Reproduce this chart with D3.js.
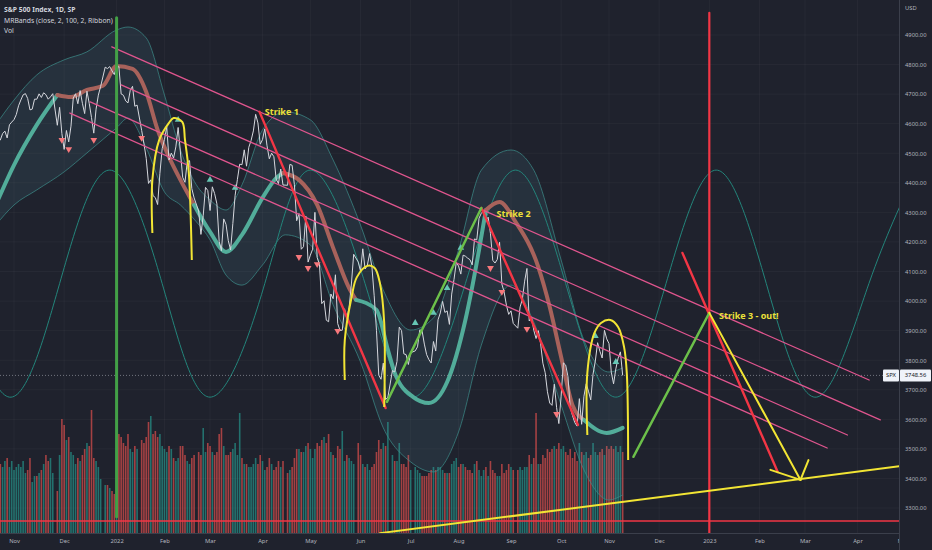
<!DOCTYPE html>
<html><head><meta charset="utf-8">
<script src="https://cdn.jsdelivr.net/npm/d3@7"></script>
<style>
html,body{margin:0;padding:0;background:#1f222d;}
svg{display:block;}
text{font-family:"Noto Sans","Open Sans",sans-serif;}
</style></head><body>
<svg id="c" width="932" height="550"></svg>
<script>
// ---------------- DATA ----------------
// daily S&P 500 closes and volume (billions)
const spxDaily = [
["2021-10-20",4536.2,2.3],["2021-10-21",4549.8,2.2],["2021-10-22",4544.9,2.3],["2021-10-25",4566.5,2.2],["2021-10-26",4574.8,2.4],["2021-10-27",4551.7,2.5],["2021-10-28",4596.4,2.2],["2021-10-29",4605.4,2.4],
["2021-11-01",4613.7,2.1],["2021-11-02",4630.7,2.2],["2021-11-03",4660.6,2.3],["2021-11-04",4680.1,2.2],["2021-11-05",4697.5,2.4],["2021-11-08",4701.7,2.0],["2021-11-09",4685.3,2.1],["2021-11-10",4646.7,2.5],["2021-11-11",4649.3,1.7],["2021-11-12",4682.9,1.9],["2021-11-15",4682.8,1.9],["2021-11-16",4700.9,2.0],["2021-11-17",4688.7,2.1],["2021-11-18",4704.5,2.3],["2021-11-19",4698.0,2.6],["2021-11-22",4682.9,2.4],["2021-11-23",4690.7,2.5],["2021-11-24",4701.5,2.0],["2021-11-26",4594.6,1.4],["2021-11-29",4655.3,2.6],["2021-11-30",4567.0,3.8],
["2021-12-01",4513.0,3.6],["2021-12-02",4577.1,3.1],["2021-12-03",4538.4,3.2],["2021-12-06",4591.7,2.7],["2021-12-07",4686.8,2.6],["2021-12-08",4701.2,2.3],["2021-12-09",4667.5,2.5],["2021-12-10",4712.0,2.4],["2021-12-13",4669.0,2.6],["2021-12-14",4634.1,2.8],["2021-12-15",4709.9,3.0],["2021-12-16",4668.7,2.9],["2021-12-17",4620.6,4.1],["2021-12-20",4568.0,2.5],["2021-12-21",4649.2,2.4],["2021-12-22",4696.6,2.2],["2021-12-23",4725.8,1.8],["2021-12-27",4791.2,1.6],["2021-12-28",4786.4,1.6],["2021-12-29",4793.1,1.5],["2021-12-30",4778.7,1.4],["2021-12-31",4766.2,1.3],
["2022-01-03",4796.6,2.8],["2022-01-04",4793.5,3.3],["2022-01-05",4700.6,3.2],["2022-01-06",4696.1,3.0],["2022-01-07",4677.0,2.9],["2022-01-10",4670.3,3.3],["2022-01-11",4713.1,2.8],["2022-01-12",4726.4,2.7],["2022-01-13",4659.0,2.9],["2022-01-14",4662.9,2.8],["2022-01-18",4577.1,3.1],["2022-01-19",4532.8,3.0],["2022-01-20",4482.7,3.2],["2022-01-21",4397.9,3.7],["2022-01-24",4410.1,3.9],["2022-01-25",4356.5,3.3],["2022-01-26",4349.9,3.4],["2022-01-27",4326.5,3.2],["2022-01-28",4431.9,3.3],["2022-01-31",4515.6,2.9],
["2022-02-01",4546.5,2.8],["2022-02-02",4589.4,2.7],["2022-02-03",4477.4,2.9],["2022-02-04",4500.5,2.8],["2022-02-07",4483.9,2.5],["2022-02-08",4521.5,2.4],["2022-02-09",4587.2,2.5],["2022-02-10",4504.1,2.9],["2022-02-11",4418.6,2.9],["2022-02-14",4401.7,2.6],["2022-02-15",4471.1,2.4],["2022-02-16",4475.0,2.3],["2022-02-17",4380.3,2.5],["2022-02-18",4348.9,2.6],["2022-02-22",4304.8,2.7],["2022-02-23",4225.5,2.6],["2022-02-24",4288.7,3.5],["2022-02-25",4384.7,2.7],["2022-02-28",4373.9,3.0],
["2022-03-01",4306.3,2.9],["2022-03-02",4386.5,2.7],["2022-03-03",4363.5,2.6],["2022-03-04",4328.9,2.7],["2022-03-07",4201.1,3.3],["2022-03-08",4170.7,3.5],["2022-03-09",4277.9,2.9],["2022-03-10",4259.5,2.6],["2022-03-11",4204.3,2.6],["2022-03-14",4173.1,2.7],["2022-03-15",4262.5,2.8],["2022-03-16",4357.9,3.0],["2022-03-17",4411.7,2.6],["2022-03-18",4463.1,4.0],["2022-03-21",4461.2,2.5],["2022-03-22",4511.6,2.3],["2022-03-23",4456.2,2.3],["2022-03-24",4520.2,2.2],["2022-03-25",4543.1,2.2],["2022-03-28",4575.5,2.3],["2022-03-29",4631.6,2.5],["2022-03-30",4602.5,2.3],["2022-03-31",4530.4,2.6],
["2022-04-01",4545.9,2.4],["2022-04-04",4582.6,2.1],["2022-04-05",4525.1,2.2],["2022-04-06",4481.2,2.5],["2022-04-07",4500.2,2.3],["2022-04-08",4488.3,2.1],["2022-04-11",4412.5,2.2],["2022-04-12",4397.5,2.4],["2022-04-13",4446.6,2.2],["2022-04-14",4392.6,2.4],["2022-04-18",4391.7,2.0],["2022-04-19",4462.2,2.1],["2022-04-20",4459.5,2.2],["2022-04-21",4393.7,2.5],["2022-04-22",4271.8,2.8],["2022-04-25",4296.1,2.8],["2022-04-26",4175.2,2.7],["2022-04-27",4184.0,2.7],["2022-04-28",4287.5,2.9],["2022-04-29",4131.9,3.0],
["2022-05-02",4155.4,2.8],["2022-05-03",4175.5,2.5],["2022-05-04",4300.2,2.8],["2022-05-05",4146.9,3.0],["2022-05-06",4123.3,2.9],["2022-05-09",3991.2,3.1],["2022-05-10",4001.1,3.2],["2022-05-11",3935.2,3.0],["2022-05-12",3930.1,3.3],["2022-05-13",4023.9,2.7],["2022-05-16",4008.0,2.6],["2022-05-17",4088.9,2.5],["2022-05-18",3923.7,2.9],["2022-05-19",3900.8,2.8],["2022-05-20",3901.4,3.4],["2022-05-23",3973.8,2.4],["2022-05-24",3941.5,2.6],["2022-05-25",3978.7,2.5],["2022-05-26",4057.8,2.4],["2022-05-27",4158.2,2.3],["2022-05-31",4132.2,3.0],
["2022-06-01",4101.2,2.6],["2022-06-02",4176.8,2.3],["2022-06-03",4108.5,2.2],["2022-06-06",4121.4,2.3],["2022-06-07",4160.7,2.1],["2022-06-08",4115.8,2.2],["2022-06-09",4017.8,2.3],["2022-06-10",3900.9,2.7],["2022-06-13",3749.6,3.1],["2022-06-14",3735.5,2.8],["2022-06-15",3790.0,3.0],["2022-06-16",3666.8,2.9],["2022-06-17",3674.8,3.7],["2022-06-21",3764.8,2.6],["2022-06-22",3759.9,2.4],["2022-06-23",3795.7,2.4],["2022-06-24",3911.7,3.0],["2022-06-27",3900.1,2.3],["2022-06-28",3821.6,2.3],["2022-06-29",3818.8,2.2],["2022-06-30",3785.4,2.6],
["2022-07-01",3825.3,2.1],["2022-07-05",3831.4,2.2],["2022-07-06",3845.1,2.1],["2022-07-07",3902.6,2.0],["2022-07-08",3899.4,1.9],["2022-07-11",3854.4,1.9],["2022-07-12",3818.8,1.9],["2022-07-13",3801.8,2.0],["2022-07-14",3790.4,2.1],["2022-07-15",3863.2,2.2],["2022-07-18",3830.9,2.1],["2022-07-19",3936.7,2.2],["2022-07-20",3959.9,2.2],["2022-07-21",3999.0,2.1],["2022-07-22",3961.6,2.0],["2022-07-25",3966.8,2.0],["2022-07-26",3921.1,2.0],["2022-07-27",4023.6,2.3],["2022-07-28",4072.4,2.4],["2022-07-29",4130.3,2.5],
["2022-08-01",4118.6,2.2],["2022-08-02",4091.2,2.3],["2022-08-03",4155.2,2.3],["2022-08-04",4151.9,2.2],["2022-08-05",4145.2,2.1],["2022-08-08",4140.1,2.1],["2022-08-09",4122.5,2.0],["2022-08-10",4210.2,2.3],["2022-08-11",4207.3,2.4],["2022-08-12",4280.2,2.1],["2022-08-15",4297.1,1.9],["2022-08-16",4305.2,2.1],["2022-08-17",4274.0,2.2],["2022-08-18",4283.7,1.9],["2022-08-19",4228.5,2.4],["2022-08-22",4138.0,2.1],["2022-08-23",4128.7,2.0],["2022-08-24",4140.8,1.9],["2022-08-25",4199.1,1.9],["2022-08-26",4057.7,2.3],["2022-08-29",4030.6,2.0],["2022-08-30",3986.2,2.1],["2022-08-31",3955.0,2.3],
["2022-09-01",3966.9,2.2],["2022-09-02",3924.3,2.1],["2022-09-06",3908.2,2.1],["2022-09-07",3979.9,2.2],["2022-09-08",4006.2,2.1],["2022-09-09",4067.4,2.2],["2022-09-12",4110.4,2.2],["2022-09-13",3932.7,2.6],["2022-09-14",3946.0,2.3],["2022-09-15",3901.4,2.5],["2022-09-16",3873.3,4.0],["2022-09-19",3899.9,2.3],["2022-09-20",3855.9,2.3],["2022-09-21",3789.9,2.6],["2022-09-22",3758.0,2.5],["2022-09-23",3693.2,2.8],["2022-09-26",3655.0,2.7],["2022-09-27",3647.3,2.8],["2022-09-28",3719.0,2.9],["2022-09-29",3640.5,2.8],["2022-09-30",3585.6,3.0],
["2022-10-03",3678.4,2.8],["2022-10-04",3790.9,2.9],["2022-10-05",3783.3,2.7],["2022-10-06",3744.5,2.6],["2022-10-07",3639.7,2.8],["2022-10-10",3612.4,2.5],["2022-10-11",3588.8,2.7],["2022-10-12",3577.0,2.4],["2022-10-13",3669.9,3.0],["2022-10-14",3583.1,2.7],["2022-10-17",3678.0,2.6],["2022-10-18",3720.0,2.7],["2022-10-19",3695.2,2.5],["2022-10-20",3665.8,2.6],["2022-10-21",3752.8,3.0],["2022-10-24",3797.3,2.7],["2022-10-25",3859.1,2.6],["2022-10-26",3830.6,2.7],["2022-10-27",3807.3,2.8],["2022-10-28",3901.1,2.6],["2022-10-31",3872.0,2.9],
["2022-11-01",3856.1,2.8],["2022-11-02",3759.7,2.9],["2022-11-03",3719.9,2.8],["2022-11-04",3770.6,2.9],["2022-11-07",3806.8,2.7],["2022-11-08",3828.1,2.9],["2022-11-09",3748.56,2.7]
];
const lastPrice = 3748.56;

// MRBands envelope
const bandDates = ["2021-10-20","2021-11-01","2021-11-15","2021-12-01","2021-12-15","2022-01-01","2022-01-10","2022-01-20","2022-02-01","2022-02-10","2022-02-20","2022-03-01","2022-03-10","2022-03-20","2022-04-01","2022-04-15","2022-05-01","2022-05-15","2022-06-01","2022-06-15","2022-07-01","2022-07-15","2022-08-01","2022-08-15","2022-09-01","2022-09-15","2022-10-01","2022-10-15","2022-11-01","2022-11-09"];
const bandUpper = [4596,4680,4765,4816,4843,4917,4927,4890,4697,4511,4393,4342,4308,4393,4579,4640,4613,4477,4257,4037,3902,3943,4173,4443,4511,4443,4139,3868,3760,3774];
const bandLower = [4257,4325,4376,4437,4501,4586,4619,4518,4369,4325,4268,4207,4088,4054,4122,4224,4190,3987,3794,3571,3456,3422,3557,3851,4054,3929,3648,3429,3327,3344];

// MRBands ribbon (basis); state u = teal, d = salmon (segment to next point)
const ribbonDates = ["2021-10-20","2021-11-01","2021-11-15","2021-11-26","2021-12-06","2021-12-15","2021-12-24","2022-01-03","2022-01-12","2022-01-20","2022-01-27","2022-02-04","2022-02-10","2022-02-18","2022-03-01","2022-03-10","2022-03-20","2022-04-01","2022-04-10","2022-04-14","2022-04-25","2022-05-05","2022-05-15","2022-05-25","2022-05-28","2022-06-10","2022-06-17","2022-06-22","2022-07-03","2022-07-13","2022-07-23","2022-08-04","2022-08-12","2022-08-17","2022-08-25","2022-09-04","2022-09-17","2022-09-25","2022-10-03","2022-10-10","2022-10-16","2022-10-30","2022-11-09"];
const ribbonValues = [4325,4460,4596,4697,4690,4714,4728,4795,4785,4707,4579,4471,4410,4325,4234,4166,4224,4349,4416,4433,4410,4325,4180,4044,4004,3970,3835,3757,3676,3655,3726,3936,4173,4308,4335,4268,4115,3980,3811,3648,3598,3554,3571];
const ribbonState  = ["u","u","u","d","d","d","d","d","d","d","d","d","d","u","u","u","u","u","u","d","d","d","d","d","u","u","u","u","u","u","u","u","u","d","d","d","d","d","d","d","u","u","u"];

// cycle wave (thin teal oscillation) — peaks, troughs and crossings
const cycleDates = ["2021-08-26","2021-09-27","2021-10-28","2021-11-28","2021-12-29","2022-01-30","2022-03-01","2022-04-02","2022-05-02","2022-06-03","2022-07-03","2022-08-04","2022-09-03","2022-10-05","2022-11-04","2022-12-06","2023-01-05","2023-02-06","2023-03-08","2023-04-08","2023-05-09"];
const cycleValues = [4443,4059,3675,4059,4443,4059,3675,4059,4443,4059,3675,4059,4443,4059,3675,4059,4443,4059,3675,4059,4443];

// signals
const sellSignals = [["2021-11-30",4545],["2021-12-03",4514],["2021-12-20",4545],["2022-01-18",4552],["2022-04-25",4149],["2022-04-29",4112],["2022-05-05",4125],["2022-05-18",3899],["2022-08-19",4112],["2022-08-26",4031],["2022-09-12",3906],["2022-09-29",3618]];
const buySignals  = [["2022-02-09",4613],["2022-03-01",4410],["2022-03-16",4383],["2022-07-05",3926],["2022-07-15",3960],["2022-07-25",4044],["2022-08-02",4180],["2022-10-24",3882],["2022-11-04",3794]];

// drawings: points are [days since 2021-11-01, price]
const drawBase = "2021-11-01";
const channelLines = [[[58.9,4860],[525.1,3733]],[[65.0,4731],[531.2,3598]],[[45.4,4674],[511.6,3547]],[[32.5,4636],[498.7,3503]]];
const redTrendLines = [[[149.7,4640],[227.0,3638]],[[285.9,4315],[345.4,3581]],[[409.2,4163],[468.7,3422]]];
const redVertical = [[426.4,4975],[426.4,3150]];
const greenTrendLines = [[[227.6,3659],[286.5,4315]],[[379.7,3473],[425.1,3960]]];
const greenVertical = [[62.9,4958],[62.9,3270]];
const yellowLines = [[[425.1,3960],[481.0,3395]],[[463.8,3429],[481.0,3395]],[[486.5,3462],[481.0,3395]],[[224.5,3215],[545,3443]]];
const redLevel = 3256;
const yellowArcs = [
 [[84.7,4230],[84.7,4410],[87.7,4545],[93.9,4602],[97.5,4619],[101.8,4606],[104.9,4545],[106.7,4433],[108.0,4139]],
 [[203.1,3733],[203.1,3868],[206.1,4014],[210.4,4081],[216.6,4119],[220.2,4112],[224.5,4061],[226.4,3926],[226.4,3642]],
 [[351.5,3547],[351.5,3757],[354.6,3892],[359.5,3926],[365.6,3936],[370.5,3912],[373.6,3845],[374.8,3757],[375.4,3462]]
];
const strikeLabels = [["Strike 1",153.4,4630],["Strike 2",295.7,4284],["Strike 3 - out!",431.3,3941]];

const priceTicks = [3300,3400,3500,3600,3700,3800,3900,4000,4100,4200,4300,4400,4500,4600,4700,4800,4900];
const monthTicks = ["2021-11-01","2021-12-01","2022-01-01","2022-02-01","2022-03-01","2022-04-01","2022-05-01","2022-06-01","2022-07-01","2022-08-01","2022-09-01","2022-10-01","2022-11-01","2022-12-01","2023-01-01","2023-02-01","2023-03-01","2023-04-01","2023-05-01"];
const monthLabels = ["Nov","Dec","2022","Feb","Mar","Apr","May","Jun","Jul","Aug","Sep","Oct","Nov","Dec","2023","Feb","Mar","Apr","May"];
const headerLines = ["S&P 500 Index, 1D, SP","MRBands (close, 2, 100, 2, Ribbon)","Vol"];

// ---------------- SCALES ----------------
const W = 932, H = 550, plotR = 899, plotB = 533;
const parse = d3.utcParse("%Y-%m-%d");
const BASE = parse(drawBase).getTime();
function wd(days){ const w = Math.floor(days/7); const r = days - w*7; return w*5 + Math.min(r,5); }
const daysOf = d => (d.getTime() - BASE)/864e5;
const xIdx = d3.scaleLinear().domain([0, wd(365)]).range([14, 609]);
const xD = s => xIdx(wd(daysOf(typeof s === "string" ? parse(s) : s)));
const xO = o => xIdx(wd(o));
const y = d3.scaleLinear().domain([3300,4900]).range([508,35]);
const yVol = d3.scaleLinear().domain([0,5]).range([plotB,383]);

const svg = d3.select("#c");
svg.append("rect").attr("width",W).attr("height",H).attr("fill","#1f222d");
const defs = svg.append("defs");
defs.append("clipPath").attr("id","plot").append("rect").attr("x",0).attr("y",0).attr("width",plotR).attr("height",plotB);
defs.append("clipPath").attr("id","bot").append("rect").attr("x",0).attr("y",plotB).attr("width",plotR).attr("height",H-plotB);

const g = svg.append("g").attr("clip-path","url(#plot)");

// grid
g.append("g").selectAll("line").data(priceTicks).join("line")
  .attr("x1",0).attr("x2",plotR).attr("y1",d=>y(d)).attr("y2",d=>y(d))
  .attr("stroke","#ffffff").attr("stroke-opacity",0.035);
g.append("g").selectAll("line").data(monthTicks).join("line")
  .attr("x1",d=>xD(d)).attr("x2",d=>xD(d)).attr("y1",0).attr("y2",plotB)
  .attr("stroke","#ffffff").attr("stroke-opacity",0.035);

// volume
g.append("g").selectAll("rect").data(spxDaily).join("rect")
  .attr("x",d=>xD(d[0])-0.8).attr("width",1.6)
  .attr("y",d=>yVol(d[2])).attr("height",d=>plotB-yVol(d[2]))
  .attr("fill",(d,i)=> (i===0 || d[1] >= spxDaily[i-1][1]) ? "rgba(38,166,154,0.6)" : "rgba(239,83,80,0.64)");

// bands
const band = bandDates.map((d,i)=>({d, u:bandUpper[i], l:bandLower[i]}));
g.append("path").datum(band)
  .attr("d", d3.area().x(d=>xD(d.d)).y0(d=>y(d.l)).y1(d=>y(d.u)).curve(d3.curveMonotoneX))
  .attr("fill","rgba(100,175,195,0.11)");
["u","l"].forEach(k=>{
  g.append("path").datum(band)
   .attr("d", d3.line().x(d=>xD(d.d)).y(d=>y(d[k])).curve(d3.curveMonotoneX))
   .attr("fill","none").attr("stroke","#3d8f8c").attr("stroke-opacity",0.7).attr("stroke-width",1);
});

// cycle wave
g.append("path").datum(cycleDates.map((d,i)=>[d,cycleValues[i]]))
  .attr("d", d3.line().x(d=>xD(d[0])).y(d=>y(d[1])).curve(d3.curveNatural))
  .attr("fill","none").attr("stroke","#23857b").attr("stroke-width",1);

// ribbon
const rib = ribbonDates.map((d,i)=>({d, v:ribbonValues[i], s:ribbonState[i]}));
const ribLine = d3.line().x(d=>xD(d.d)).y(d=>y(d.v)).curve(d3.curveMonotoneX);
let groups = [], cur = null;
rib.forEach((p,i)=>{
  if (i === rib.length-1) { if (cur) cur.pts.push(p); return; }
  if (!cur || cur.s !== p.s) { if (cur) cur.pts.push(p); cur = {s:p.s, pts:[p]}; groups.push(cur); }
  else cur.pts.push(p);
});
groups.forEach(gr=>{
  g.append("path").datum(gr.pts).attr("d",ribLine)
   .attr("fill","none").attr("stroke", gr.s==="u" ? "#52ad9a" : "#a8625b")
   .attr("stroke-width",4).attr("stroke-linecap","round").attr("stroke-linejoin","round");
});

// price line
g.append("path").datum(spxDaily)
  .attr("d", d3.line().x(d=>xD(d[0])).y(d=>y(d[1])))
  .attr("fill","none").attr("stroke","#d6d8de").attr("stroke-width",1);

// last price dotted line
g.append("line").attr("x1",0).attr("x2",plotR).attr("y1",y(lastPrice)).attr("y2",y(lastPrice))
  .attr("stroke","#9598a1").attr("stroke-opacity",0.7).attr("stroke-dasharray","1,2");

// signals
const tri = d3.symbol(d3.symbolTriangle, 20);
g.append("g").selectAll("path").data(sellSignals).join("path")
  .attr("d",tri).attr("transform",d=>`translate(${xD(d[0])},${y(d[1])}) rotate(180)`)
  .attr("fill","#f7787c");
g.append("g").selectAll("path").data(buySignals).join("path")
  .attr("d",tri).attr("transform",d=>`translate(${xD(d[0])},${y(d[1])})`)
  .attr("fill","#66c6b4");

// drawings
const seg = d3.line().x(p=>xO(p[0])).y(p=>y(p[1]));
function drawLines(data, color, width){
  g.append("g").selectAll("path").data(data).join("path")
   .attr("d",seg).attr("fill","none").attr("stroke",color).attr("stroke-width",width).attr("stroke-linecap","round");
}
g.append("line").attr("x1",0).attr("x2",plotR).attr("y1",y(redLevel)).attr("y2",y(redLevel))
  .attr("stroke","#f23645").attr("stroke-width",1.6);
drawLines(channelLines, "#e0558e", 1.3);
drawLines([greenVertical], "#43a047", 3);
drawLines([redVertical], "#f23645", 2.2);
drawLines(redTrendLines, "#f23645", 2.4);
drawLines(greenTrendLines, "#6cc04a", 2.4);
drawLines(yellowLines, "#f2e534", 2);
g.append("g").selectAll("path").data(yellowArcs).join("path")
  .attr("d", d3.line().x(p=>xO(p[0])).y(p=>y(p[1])).curve(d3.curveCatmullRom))
  .attr("fill","none").attr("stroke","#f2e534").attr("stroke-width",2);

g.append("g").selectAll("text").data(strikeLabels).join("text")
  .attr("x",d=>xO(d[1])).attr("y",d=>y(d[2]))
  .attr("fill","#ece03a").attr("font-size",9).attr("font-weight",700).text(d=>d[0]);

// borders
svg.append("line").attr("x1",plotR+0.5).attr("x2",plotR+0.5).attr("y1",0).attr("y2",H).attr("stroke","#3b3f4b");
svg.append("line").attr("x1",0).attr("x2",plotR).attr("y1",plotB+0.5).attr("y2",plotB+0.5).attr("stroke","#3b3f4b");

// price axis
const ax = svg.append("g").attr("transform",`translate(${plotR},0)`)
  .call(d3.axisRight(y).tickValues(priceTicks).tickFormat(d3.format(".2f")).tickSize(0).tickPadding(6));
ax.select(".domain").remove();
ax.selectAll("text").attr("fill","#b2b5be").attr("font-size",5.8).attr("font-family","Noto Sans, sans-serif");
svg.append("text").attr("x",905).attr("y",10).attr("fill","#b2b5be").attr("font-size",5.8).text("USD");

// time axis
const tx = svg.append("g").attr("clip-path","url(#bot)").append("g").attr("transform",`translate(0,${plotB})`)
  .call(d3.axisBottom(xIdx).tickValues(monthTicks.map(s=>wd(daysOf(parse(s))))).tickFormat((d,i)=>monthLabels[i]).tickSize(0).tickPadding(6));
tx.select(".domain").remove();
tx.selectAll("text").attr("fill","#b2b5be").attr("font-size",5.8).attr("font-family","Noto Sans, sans-serif");

// last price labels
const ly = y(lastPrice);
svg.append("rect").attr("x",883).attr("y",ly-6).attr("width",16).attr("height",12).attr("fill","#f0f3fa").attr("rx",1);
svg.append("text").attr("x",891).attr("y",ly+2).attr("text-anchor","middle").attr("font-size",5.8).attr("fill","#131722").text("SPX");
svg.append("rect").attr("x",900).attr("y",ly-6).attr("width",31).attr("height",12).attr("fill","#f0f3fa").attr("rx",1);
svg.append("text").attr("x",915.5).attr("y",ly+2).attr("text-anchor","middle").attr("font-size",5.8).attr("fill","#131722").text(d3.format(".2f")(lastPrice));

// header
svg.append("g").selectAll("text").data(headerLines).join("text")
  .attr("x",4).attr("y",(d,i)=>12+i*10.5)
  .attr("fill","#d1d4dc").attr("font-size",6.8).attr("font-weight",(d,i)=>i===0?700:400).text(d=>d);
</script>
</body></html>
